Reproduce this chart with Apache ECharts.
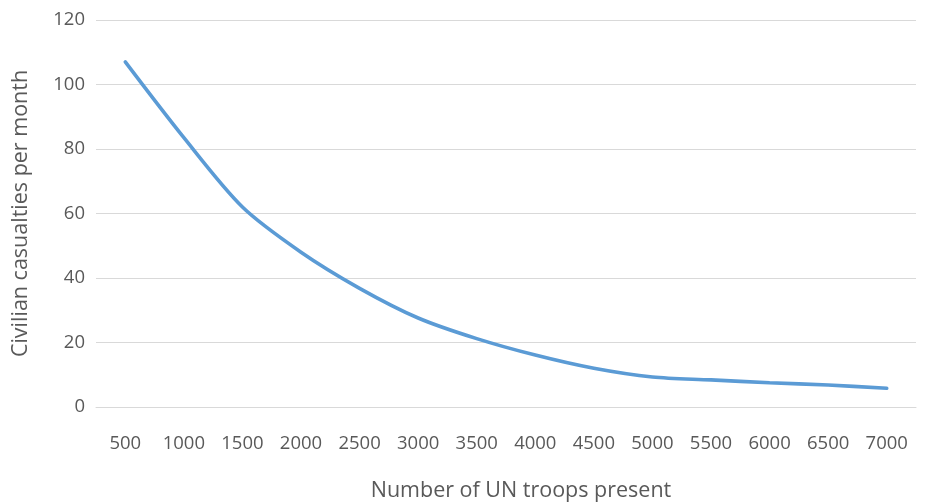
<!DOCTYPE html>
<html><head><meta charset="utf-8">
<script src="https://cdn.jsdelivr.net/npm/echarts@6/dist/echarts.min.js"></script>
<style>html,body{margin:0;padding:0;background:#fff}#c{width:928px;height:504px}</style>
</head><body><div id="c"></div>
<script>
const categories = ['500','1000','1500','2000','2500','3000','3500','4000','4500','5000','5500','6000','6500','7000'];
const casualties = [107, 83.5, 62, 48, 36.8, 27.6, 21.2, 16.1, 12.0, 9.3, 8.4, 7.5, 6.8, 5.8];
const yTicks = {min: 0, max: 120, interval: 20};
const xName = 'Number of UN troops present';
const yName = 'Civilian casualties per month';

const FONT = 'Open Sans';
const chart = echarts.init(document.getElementById('c'));
chart.setOption({
  animation: false,
  grid: {left: 96, right: 12, top: 20, bottom: 97, outerBoundsMode: 'none', containLabel: false},
  xAxis: {
    type: 'category', data: categories, boundaryGap: true,
    axisLine: {show: true, lineStyle: {color: '#d9d9d9', width: 1}},
    axisTick: {show: false},
    axisLabel: {color: '#595959', fontFamily: FONT, fontSize: 18.5, margin: 27},
    name: xName, nameLocation: 'middle', nameGap: 73,
    nameTextStyle: {color: '#595959', fontFamily: FONT, fontSize: 21.5, padding: [0,0,0,30]}
  },
  yAxis: {
    type: 'value', min: yTicks.min, max: yTicks.max, interval: yTicks.interval,
    axisLine: {show: false}, axisTick: {show: false},
    splitLine: {lineStyle: {color: '#d9d9d9', width: 1}},
    axisLabel: {color: '#595959', fontFamily: FONT, fontSize: 18.5, margin: 11},
    name: yName, nameLocation: 'middle', nameGap: 64, nameRotate: 90,
    nameTextStyle: {color: '#595959', fontFamily: FONT, fontSize: 21.5}
  },
  series: [{
    type: 'line', data: casualties, smooth: 0.3, symbol: 'none',
    lineStyle: {color: '#5b9bd5', width: 3.6, cap: 'round'}
  }]
});
</script></body></html>
